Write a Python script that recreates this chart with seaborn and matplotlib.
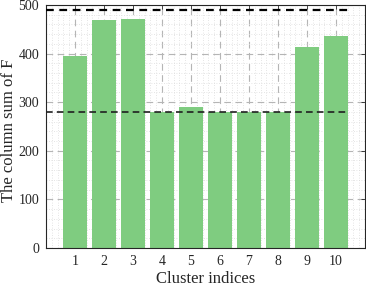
import matplotlib
matplotlib.use("Agg")
import matplotlib.pyplot as plt
import seaborn as sns
import pandas as pd
import numpy as np
from matplotlib.ticker import MultipleLocator

clusters = [1, 2, 3, 4, 5, 6, 7, 8, 9, 10]
col_sums = [395, 468, 472, 280, 291, 280, 280, 280, 413, 437]
upper_ref = 490
lower_ref = 280

sns.set_theme(style="white")
plt.rcParams['font.family'] = ['Liberation Serif', 'DejaVu Serif']
plt.rcParams['mathtext.fontset'] = 'stix'

fig = plt.figure(figsize=(3.66, 2.88), dpi=100)
ax = fig.add_axes([0.1257, 0.139, 0.8713, 0.844])

df = pd.DataFrame({"cluster": clusters, "sum": col_sums})
sns.barplot(data=df, x="cluster", y="sum", native_scale=True, width=0.8,
            color="#7fcc80", saturation=1, edgecolor="none", ax=ax, zorder=2)

ax.set_xlim(0, 11)
ax.set_ylim(0, 500)
ax.set_xticks(clusters)
ax.set_xticklabels([str(c) for c in clusters])
ax.set_yticks([0, 100, 200, 300, 400, 500])
ax.xaxis.set_minor_locator(MultipleLocator(0.2))
ax.yaxis.set_minor_locator(MultipleLocator(20))

ax.set_axisbelow(True)
ax.grid(which="major", linestyle=(0, (6, 4)), color="#b5b5b5", linewidth=0.8)
ax.grid(which="minor", linestyle=(0, (1, 2)), color="#dcdcdc", linewidth=0.6)

ax.hlines([upper_ref], 0, 10.4, colors="black", linestyles=(0, (3.5, 2.5)), linewidth=1.6, zorder=3)
ax.hlines([lower_ref], 0, 10.4, colors="#202020", linestyles=(0, (4, 2.5)), linewidth=1.2, zorder=3)

for s in ax.spines.values():
    s.set_color("#262626")
    s.set_linewidth(0.8)
ax.tick_params(which="major", direction="in", length=3, width=0.6, color="#262626",
               top=True, right=True, labelsize=10, labelcolor="#262626", pad=5)
ax.tick_params(which="minor", length=0)

ax.set_xlabel("Cluster indices", fontsize=12, color="#262626", labelpad=2.5)
ax.set_ylabel("The column sum of F", fontsize=12, color="#262626")
ax.yaxis.set_label_coords(-0.092, 0.483)

fig.savefig("out.png", dpi=100)
